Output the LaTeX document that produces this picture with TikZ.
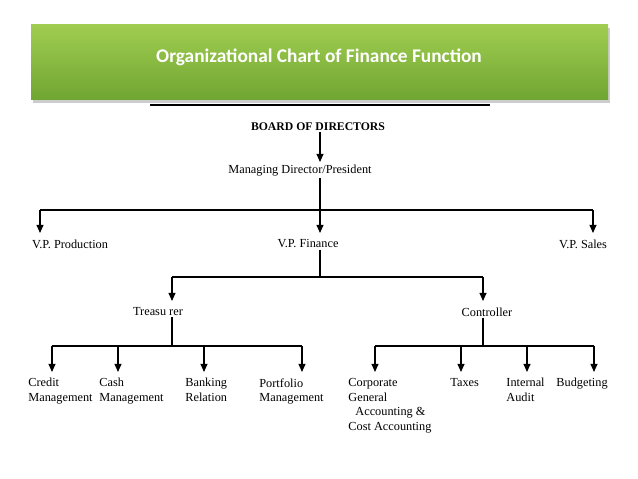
\documentclass[tikz,border=0pt]{standalone}
\usepackage{fontspec}
\setmainfont{Liberation Serif}
\newfontfamily\titlefont{Carlito}
\usetikzlibrary{arrows.meta,positioning}
\definecolor{bannertop}{RGB}{160,205,80}
\definecolor{bannerbot}{RGB}{112,165,50}
\tikzset{%
        every post/.style={
            inner sep=1pt,
            font=\fontsize{10.5}{12.5}\selectfont
        },
        post leaf/.style={
            every post,
            align=left,
            anchor=north west
        },
        link/.style={
            line width=1.1pt
        },
        link arrow/.style={
            line width=1.1pt,
            -{Triangle[length=7pt,width=6pt]}
        },
    }
\begin{document}
\begin{tikzpicture}[x=0.03cm, y=-0.03cm]
        \useasboundingbox (0,0) rectangle (638,479);
        \fill[black!20] (33,28) rectangle (610,103);
        \shade[top color=bannertop, bottom color=bannerbot]
            (31,25) rectangle (608,100);
        \node [text=white, font=\titlefont\bfseries\fontsize{16.5}{19}\selectfont] (title) at (319,57)
            {Organizational Chart of Finance Function};
        \draw [line width=1.5pt] (150,105) -- (490,105);

        \node [every post, font=\fontsize{10}{12}\selectfont\bfseries] (board) at (318,127) {BOARD OF DIRECTORS};
        \node [every post] (md) at (300,171) {Managing Director/President};
        \coordinate (vp-bus) at (320,210);
        \coordinate (fin-bus) at (320,277);
        \coordinate (tr-bus) at (172,346);
        \coordinate (ct-bus) at (483,346);
        \draw [link arrow] (board.south -| vp-bus) -- (320,162);

        % vice presidents
        \draw [link] (md.south -| vp-bus) -- (vp-bus);
        \draw [link] (40,210) -- (593,210);
        \foreach \x in {40,320,593}
            \draw [link arrow] (\x,210) -- (\x,233);
        \node [every post] (vp-prod) at (70,244) {V.P. Production};
        \node [every post] (vp-fin) at (308,244) {V.P. Finance};
        \node [every post] (vp-sales) at (583,244) {V.P. Sales};

        % finance
        \draw [link] (vp-fin.south -| fin-bus) -- (fin-bus);
        \draw [link] (172,277) -- (483,277);
        \draw [link arrow] (172,277) -- (172,301);
        \draw [link arrow] (483,277) -- (483,301);
        \node [every post] (treasurer) at (158,312) {Treasu rer};
        \node [every post] (controller) at (487,312) {Controller};

        % treasurer
        \draw [link] (treasurer.south -| tr-bus) -- (tr-bus);
        \draw [link] (52,346) -- (302,346);
        \foreach \x in {52,118,204,302}
            \draw [link arrow] (\x,346) -- (\x,372);
        \node [post leaf] (credit) at (27,377) {Credit\\Management};
        \node [post leaf] (cash) at (98,377) {Cash\\Management};
        \node [post leaf] (bank) at (184,377) {Banking\\Relation};
        \node [post leaf] (port) at (258,377) {Portfolio\\Management};

        % controller
        \draw [link] (controller.south -| ct-bus) -- (ct-bus);
        \draw [link] (375,346) -- (594,346);
        \foreach \x in {375,461,527,594}
            \draw [link arrow] (\x,346) -- (\x,372);
        \node [post leaf] (corp) at (347,377) {Corporate\\General\\\hspace{6pt}Accounting \&\\Cost Accounting};
        \node [post leaf] (taxes) at (449,377) {Taxes};
        \node [post leaf] (audit) at (505,377) {Internal\\Audit};
        \node [post leaf] (budget) at (555,377) {Budgeting};
\end{tikzpicture}
\end{document}
